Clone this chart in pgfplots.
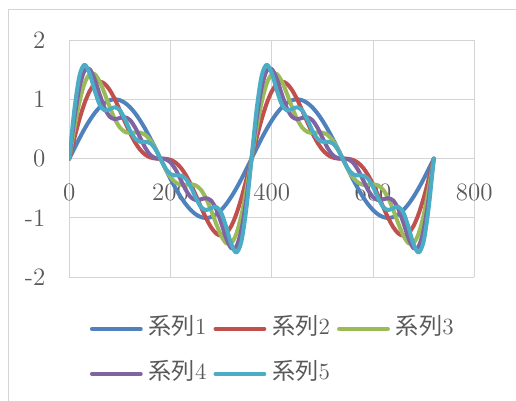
\documentclass[border=0pt]{standalone}
\usepackage{pgfplots}
\usepackage{pgfplotstable}
\pgfplotsset{compat=1.18}
\usepackage{fontspec}
\newfontfamily\cjk{Noto Sans CJK JP}
\definecolor{s1}{HTML}{4F81BD}
\definecolor{s2}{HTML}{C0504D}
\definecolor{s3}{HTML}{9BBB59}
\definecolor{s4}{HTML}{8064A2}
\definecolor{s5}{HTML}{4BACC6}
\definecolor{gridc}{HTML}{D4D4D4}
\definecolor{txt}{HTML}{595959}
\pgfplotstableread{
x a b c d e
0 0 0 0 0 0
10 0.1736 0.3447 0.5113 0.6720 0.8252
20 0.3420 0.6634 0.9521 1.1983 1.3953
30 0.5000 0.9330 1.2663 1.4828 1.5828
40 0.6428 1.1352 1.4239 1.5094 1.4410
50 0.7660 1.2584 1.4251 1.3396 1.1517
60 0.8660 1.2990 1.2990 1.0825 0.9093
70 0.9397 1.2611 1.0944 0.8482 0.8135
80 0.9848 1.1558 0.8671 0.7064 0.8350
90 1.0000 1.0000 0.6667 0.6667 0.8667
100 0.9848 0.8138 0.5251 0.6858 0.8144
110 0.9397 0.6183 0.4516 0.6978 0.6631
120 0.8660 0.4330 0.4330 0.6495 0.4763
130 0.7660 0.2736 0.4403 0.5258 0.3379
140 0.6428 0.1504 0.4391 0.3536 0.2852
150 0.5000 0.0670 0.4003 0.1838 0.2838
160 0.3420 0.0206 0.3093 0.0631 0.2601
170 0.1736 0.0026 0.1693 0.0086 0.1618
180 0 0 0 0 0
190 -0.1736 -0.0026 -0.1693 -0.0086 -0.1618
200 -0.3420 -0.0206 -0.3093 -0.0631 -0.2601
210 -0.5000 -0.0670 -0.4003 -0.1838 -0.2838
220 -0.6428 -0.1504 -0.4391 -0.3536 -0.2852
230 -0.7660 -0.2736 -0.4403 -0.5258 -0.3379
240 -0.8660 -0.4330 -0.4330 -0.6495 -0.4763
250 -0.9397 -0.6183 -0.4516 -0.6978 -0.6631
260 -0.9848 -0.8138 -0.5251 -0.6858 -0.8144
270 -1.0000 -1.0000 -0.6667 -0.6667 -0.8667
280 -0.9848 -1.1558 -0.8671 -0.7064 -0.8350
290 -0.9397 -1.2611 -1.0944 -0.8482 -0.8135
300 -0.8660 -1.2990 -1.2990 -1.0825 -0.9093
310 -0.7660 -1.2584 -1.4251 -1.3396 -1.1517
320 -0.6428 -1.1352 -1.4239 -1.5094 -1.4410
330 -0.5000 -0.9330 -1.2663 -1.4828 -1.5828
340 -0.3420 -0.6634 -0.9521 -1.1983 -1.3953
350 -0.1736 -0.3447 -0.5113 -0.6720 -0.8252
360 0 0 0 0 0
370 0.1736 0.3447 0.5113 0.6720 0.8252
380 0.3420 0.6634 0.9521 1.1983 1.3953
390 0.5000 0.9330 1.2663 1.4828 1.5828
400 0.6428 1.1352 1.4239 1.5094 1.4410
410 0.7660 1.2584 1.4251 1.3396 1.1517
420 0.8660 1.2990 1.2990 1.0825 0.9093
430 0.9397 1.2611 1.0944 0.8482 0.8135
440 0.9848 1.1558 0.8671 0.7064 0.8350
450 1.0000 1.0000 0.6667 0.6667 0.8667
460 0.9848 0.8138 0.5251 0.6858 0.8144
470 0.9397 0.6183 0.4516 0.6978 0.6631
480 0.8660 0.4330 0.4330 0.6495 0.4763
490 0.7660 0.2736 0.4403 0.5258 0.3379
500 0.6428 0.1504 0.4391 0.3536 0.2852
510 0.5000 0.0670 0.4003 0.1838 0.2838
520 0.3420 0.0206 0.3093 0.0631 0.2601
530 0.1736 0.0026 0.1693 0.0086 0.1618
540 0 0 0 0 0
550 -0.1736 -0.0026 -0.1693 -0.0086 -0.1618
560 -0.3420 -0.0206 -0.3093 -0.0631 -0.2601
570 -0.5000 -0.0670 -0.4003 -0.1838 -0.2838
580 -0.6428 -0.1504 -0.4391 -0.3536 -0.2852
590 -0.7660 -0.2736 -0.4403 -0.5258 -0.3379
600 -0.8660 -0.4330 -0.4330 -0.6495 -0.4763
610 -0.9397 -0.6183 -0.4516 -0.6978 -0.6631
620 -0.9848 -0.8138 -0.5251 -0.6858 -0.8144
630 -1.0000 -1.0000 -0.6667 -0.6667 -0.8667
640 -0.9848 -1.1558 -0.8671 -0.7064 -0.8350
650 -0.9397 -1.2611 -1.0944 -0.8482 -0.8135
660 -0.8660 -1.2990 -1.2990 -1.0825 -0.9093
670 -0.7660 -1.2584 -1.4251 -1.3396 -1.1517
680 -0.6428 -1.1352 -1.4239 -1.5094 -1.4410
690 -0.5000 -0.9330 -1.2663 -1.4828 -1.5828
700 -0.3420 -0.6634 -0.9521 -1.1983 -1.3953
710 -0.1736 -0.3447 -0.5113 -0.6720 -0.8252
720 0 0 0 0 0
}\data
\begin{document}
\begin{tikzpicture}
\begin{axis}[
  scale only axis, width=202.5pt, height=118.65pt,
  xmin=0, xmax=800, ymin=-2, ymax=2, enlargelimits=false,
  axis x line=middle, axis y line=left,
  axis line style={draw=gridc, line width=0.5pt, -},
  hide obscured x ticks=false, hide obscured y ticks=false,
  xtick={0,200,400,600,800}, ytick={-2,-1,0,1,2},
  major tick length=0pt,
  grid=major, major grid style={draw=gridc, line width=0.5pt},
  /pgf/number format/assume math mode=true,
  tick label style={font=\fontsize{12.5}{15}\selectfont, text=txt, inner sep=0pt},
  xticklabel style={anchor=north, yshift=-12.5pt},
  yticklabel style={anchor=east, xshift=-11.8pt},
  legend style={at={(0.5,0)}, anchor=north, yshift=-19.6pt, draw=none, fill=none,
    inner sep=0pt, row sep=10.5pt, font=\fontsize{11.6}{14}\selectfont, text=txt,
    nodes={inner sep=0pt, text height=9pt, text depth=3pt},
    /tikz/every odd column/.append style={column sep=3pt},
    /tikz/every even column/.append style={column sep=3.5pt}},
  legend columns=3, legend cell align=left,
  legend image code/.code={\draw[#1] (0.8pt,0pt) -- (25.2pt,0pt);},
  every axis plot/.append style={line width=2pt, line join=round, line cap=round, smooth, no markers},
]
\addplot[s1] table[x=x,y=a]{\data};
\addplot[s2] table[x=x,y=b]{\data};
\addplot[s3] table[x=x,y=c]{\data};
\addplot[s4] table[x=x,y=d]{\data};
\addplot[s5] table[x=x,y=e]{\data};
\legend{{\cjk 系列}1,{\cjk 系列}2,{\cjk 系列}3,{\cjk 系列}4,{\cjk 系列}5}
\end{axis}
\draw[gridc, line width=0.5pt] (-30.65pt,-80pt) -- (-30.65pt,133.65pt) -- (240pt,133.65pt);
\pgfresetboundingbox
\useasboundingbox (-34.65pt,-61.85pt) rectangle (223.35pt,138.65pt);
\end{tikzpicture}
\end{document}
